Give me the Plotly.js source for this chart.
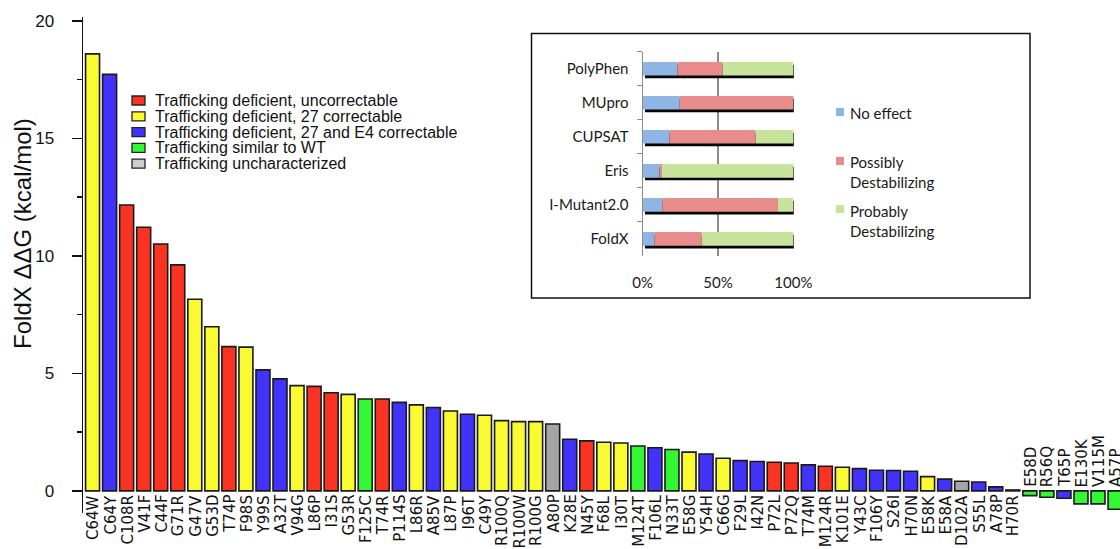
<!DOCTYPE html>
<html>
<head>
<meta charset="utf-8">
<script src="https://cdn.plot.ly/plotly-3.0.1.min.js"></script>
<style>html,body{margin:0;padding:0;background:#fff;}#chart{width:1120px;height:549px;}</style>
</head>
<body>
<div id="chart"></div>
<script>
// ---------- main chart data ----------
const mutations = ['C64W','C64Y','C108R','V41F','C44F','G71R','G47V','G53D','T74P','F98S',
  'Y99S','A32T','V94G','L86P','I31S','G53R','F125C','T74R','P114S','L86R',
  'A85V','L87P','I96T','C49Y','R100Q','R100W','R100G','A80P','K28E','N45Y',
  'F68L','I30T','M124T','F106L','N33T','E58G','Y54H','C66G','F29L','I42N',
  'P72L','P72Q','T74M','M124R','K101E','Y43C','F106Y','S26I','H70N','E58K',
  'E58A','D102A','S55L','A78P','H70R','E58D','R56Q','T65P','E130K','V115M','A57P'];
const ddG = [18.6,17.73,12.17,11.22,10.51,9.62,8.16,6.99,6.14,6.12,
  5.15,4.77,4.48,4.45,4.18,4.11,3.91,3.91,3.77,3.66,
  3.55,3.40,3.26,3.22,2.99,2.95,2.95,2.85,2.20,2.13,
  2.07,2.04,1.91,1.84,1.76,1.65,1.57,1.39,1.29,1.25,
  1.22,1.19,1.11,1.05,1.01,0.95,0.88,0.87,0.84,0.61,
  0.50,0.41,0.38,0.17,0.04,-0.20,-0.27,-0.31,-0.55,-0.55,-0.78];
const trafficking = ['Y','B','R','R','R','R','Y','Y','R','Y',
  'B','B','Y','R','R','Y','G','R','B','Y',
  'B','Y','B','Y','Y','Y','Y','X','B','R',
  'Y','Y','G','B','G','Y','B','Y','B','B',
  'R','R','B','R','Y','B','B','B','B','Y',
  'B','X','B','B','B','G','G','B','G','G','G'];
const classCodes = ['R','Y','B','G','X'];
const classNames = ['Trafficking deficient, uncorrectable','Trafficking deficient, 27 correctable',
  'Trafficking deficient, 27 and E4 correctable','Trafficking similar to WT','Trafficking uncharacterized'];
const yTicks = [0,5,10,15,20];

// ---------- inset data ----------
const tools = ['PolyPhen','MUpro','CUPSAT','Eris','I-Mutant2.0','FoldX'];
const noEffect = [23.0,24.6,17.7,11.1,13.0,7.7];
const possiblyDestab = [30.1,75.4,57.3,1.7,76.8,31.5];
const probablyDestab = [46.9,0.0,25.0,87.2,10.2,60.8];
const insetTicks = [0,50,100];
const insetTickText = ['0%','50%','100%'];
const insetSeries = ['No effect','Possibly<br>Destabilizing','Probably<br>Destabilizing'];

// ---------- styles ----------
const barColor = {R:'#fb3322', Y:'#fafa32', B:'#4233fb', G:'#33f733', X:'#a5a5a5'};
const legendColor = {R:'#fb3322', Y:'#fafa32', B:'#4233fb', G:'#33f733', X:'#cccccc'};
const insetColors = ['#8fb5e4','#e88c8c','#c8e39c'];
const ARIAL = 'Liberation Sans, Arial, sans-serif';
const DEJA = 'DejaVu Sans, sans-serif';
const LATO = 'Lato, Open Sans, sans-serif';

// pixel -> paper helpers (plot area: left 83, right 1120, top 17, bottom 513.1)
const L = 83, R = 1120, T = 17, B = 513.1;
const px = p => (p - L) / (R - L);
const py = p => (B - p) / (B - T);

const traces = [];
traces.push({
  type:'bar', x: mutations, y: ddG, width: 0.82,
  marker:{color: trafficking.map(c => barColor[c]), line:{color:'#1a1a1a', width:1.6}},
  xaxis:'x', yaxis:'y', showlegend:false, hoverinfo:'x+y'
});

// inset shadow bars
const totals = tools.map((t,i) => noEffect[i] + possiblyDestab[i] + probablyDestab[i]);
traces.push({
  type:'bar', orientation:'h', y: tools, x: totals, base: 1.5, width: 0.4, offset: -0.12,
  marker:{color:'#050505'}, xaxis:'x2', yaxis:'y2', showlegend:false, hoverinfo:'skip'
});
const segs = [noEffect, possiblyDestab, probablyDestab];
segs.forEach((s, k) => {
  const base = tools.map((t,i) => { let b = 0; for (let j=0;j<k;j++) b += segs[j][i]; return b; });
  traces.push({
    type:'bar', orientation:'h', y: tools, x: s, base: base, width: 0.4, offset: -0.2,
    marker:{color: insetColors[k]}, xaxis:'x2', yaxis:'y2', showlegend:false
  });
});

const annotations = [];
mutations.forEach((m,i) => {
  const pos = ddG[i] >= 0;
  annotations.push({
    x: m, y: 0, xref:'x', yref:'y', text: m, textangle: -90, showarrow:false,
    xanchor:'center', yanchor: pos ? 'top' : 'bottom', yshift: pos ? -2 : 2, xshift: 1,
    font:{family: DEJA, size:15, color:'#111'}
  });
});
annotations.push({
  x: px(23), y: py(234), xref:'paper', yref:'paper', text:'FoldX ΔΔG (kcal/mol)', textangle:-90,
  showarrow:false, xanchor:'center', yanchor:'middle', font:{family: ARIAL, size:24, color:'#111'}
});

const shapes = [];
const legRows = [100.5, 116.3, 132.1, 147.9, 163.7];
classCodes.forEach((c,i) => {
  shapes.push({type:'rect', xref:'paper', yref:'paper', x0:px(132), x1:px(145), y0:py(legRows[i]+4.5), y1:py(legRows[i]-4.5),
    fillcolor: legendColor[c], line:{color:'#222', width:1.3}});
  annotations.push({x:px(153), y:py(legRows[i]), xref:'paper', yref:'paper', text: classNames[i], showarrow:false,
    xanchor:'left', yanchor:'middle', font:{family: ARIAL, size:16, color:'#111'}});
});

// inset frame
shapes.push({type:'rect', xref:'paper', yref:'paper', x0:px(531.5), x1:px(1030), y0:py(298), y1:py(33.5),
  line:{color:'#111', width:1.5}, fillcolor:'rgba(0,0,0,0)', layer:'below'});
// inset legend
const insetLegY = [112.7, 171.7, 221];
const insetSwY = [112, 161, 209];
insetSeries.forEach((s,i) => {
  shapes.push({type:'rect', xref:'paper', yref:'paper', x0:px(836), x1:px(844), y0:py(insetSwY[i]+4), y1:py(insetSwY[i]-4),
    fillcolor: insetColors[i], line:{width:0}});
  annotations.push({x:px(848), y:py(insetLegY[i]), xref:'paper', yref:'paper', text:s, showarrow:false,
    xanchor:'left', yanchor:'middle', align:'left', font:{family: LATO, size:15, color:'#1a1a1a'}});
});

const layout = {
  width:1120, height:549, paper_bgcolor:'#fff', plot_bgcolor:'rgba(0,0,0,0)',
  margin:{l:L, r:0, t:T, b:549-B}, barmode:'overlay', showlegend:false,
  xaxis:{type:'category', range:[-0.56, 60.29], showticklabels:false, showline:false, ticks:'',
    showgrid:false, zeroline:false, fixedrange:true},
  yaxis:{range:[-0.94, 20.17], tickvals: yTicks, showline:true, linecolor:'#111', linewidth:1.5,
    ticks:'outside', ticklen:10, tickwidth:1.5, tickcolor:'#111', showgrid:false, zeroline:false,
    ticklabelstandoff: 14, tickfont:{family: ARIAL, size:17, color:'#111'},
    minor:{dtick:2.5, tick0:0, ticks:'outside', ticklen:5, tickwidth:1.5, tickcolor:'#111', showgrid:false}},
  xaxis2:{domain:[px(642.7), px(793.8)], anchor:'y2', range:[0,100.3], tickvals: insetTicks, ticktext: insetTickText,
    showgrid:true, gridcolor:'#8c8c8c', gridwidth:1.2, zeroline:false, showline:false, ticks:'',
    ticklabelstandoff: 16, tickfont:{family: LATO, size:15, color:'#1a1a1a'}},
  yaxis2:{domain:[py(256), py(51.7)], anchor:'x2', type:'category', range:[5.5,-0.5], showline:true,
    linecolor:'#8c8c8c', linewidth:1.2, ticks:'outside', tickson:'boundaries', ticklen:5, tickcolor:'#8c8c8c',
    showgrid:false, zeroline:false, ticklabelstandoff: 10, tickfont:{family: LATO, size:15, color:'#1a1a1a'}},
  shapes: shapes, annotations: annotations
};
Plotly.newPlot('chart', traces, layout, {staticPlot:true, displayModeBar:false});
</script>
</body>
</html>
